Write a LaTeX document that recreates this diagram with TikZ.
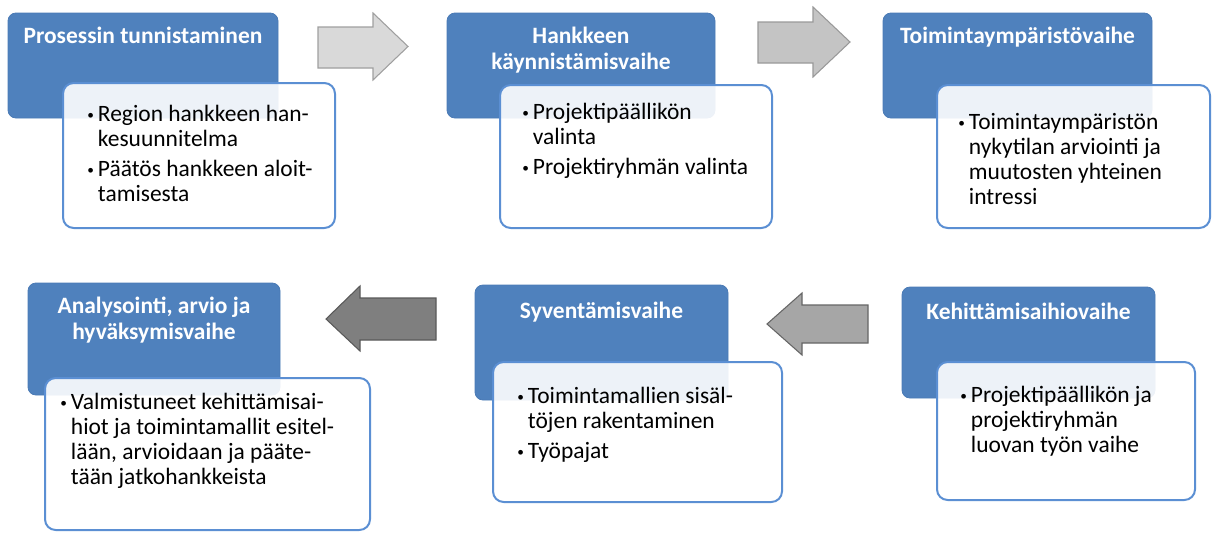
\documentclass[tikz,border=0pt]{standalone}
\usepackage{fontspec}
\setmainfont{Carlito}
\definecolor{hdrblue}{HTML}{4F81BD}
\definecolor{hdredge}{HTML}{4A7AB5}
\definecolor{boxedge}{HTML}{5B8FD3}
\definecolor{arrA}{HTML}{D9D9D9}
\definecolor{arrB}{HTML}{C4C4C4}
\definecolor{arrC}{HTML}{A6A6A6}
\definecolor{arrD}{HTML}{7F7F7F}
\newcommand{\bul}{\makebox[8pt][l]{\raisebox{1.5pt}{\fontsize{10}{10}\selectfont•}}}
\newcommand{\ind}{\hspace*{8pt}}
\tikzset{
  hdr/.style={draw=hdredge, line width=0.6pt, fill=hdrblue, rounded corners=6pt, inner sep=0pt},
  body/.style={draw=boxedge, line width=1.5pt, fill=white, fill opacity=0.9, rounded corners=8pt, inner sep=0pt},
  ttl/.style={anchor=base, text=white, font=\bfseries\fontsize{17.6}{19.5}\selectfont, inner sep=0pt},
  txt/.style={anchor=base west, font=\fontsize{17.6}{18.75}\selectfont, inner sep=0pt},
  blockarrow/.style={line width=0.8pt, line join=miter},
}
\begin{document}
\begin{tikzpicture}[x=0.75pt,y=-0.75pt]
\useasboundingbox (0,0) rectangle (1216,532);
% arrows
\draw[blockarrow, fill=arrA, draw=gray!75] (318,27) -- (373,27) -- (373,13) -- (408,46.5) -- (373,80) -- (373,68) -- (318,68) -- cycle;
\draw[blockarrow, fill=arrB, draw=gray!80] (758,22) -- (813,22) -- (813,7) -- (850,42) -- (813,77) -- (813,63) -- (758,63) -- cycle;
\draw[blockarrow, fill=arrC, draw=gray!120] (868,305) -- (802,305) -- (802,293) -- (767,324) -- (802,355) -- (802,343) -- (868,343) -- cycle;
\draw[blockarrow, fill=arrD, draw=black!65] (436,298) -- (360,298) -- (360,286) -- (326,319) -- (360,351) -- (360,340) -- (436,340) -- cycle;
% header boxes
\node[hdr, minimum width=202.5pt, minimum height=78.75pt] (h1) at (143,65.5) {};
\node[hdr, minimum width=201pt, minimum height=78.75pt] (h2) at (581,65.5) {};
\node[hdr, minimum width=201.75pt, minimum height=78.75pt] (h3) at (1017.5,65.5) {};
\node[hdr, minimum width=189pt, minimum height=84pt] (h4) at (154,339) {};
\node[hdr, minimum width=189.75pt, minimum height=86.25pt] (h5) at (601.5,342.5) {};
\node[hdr, minimum width=189.75pt, minimum height=83.25pt] (h6) at (1028.5,342.5) {};
% titles
\node[ttl] (t1) at (143,43) {Prosessin tunnistaminen};
\node[ttl] (t2) at (581,43) {\begin{tabular}[t]{@{}c@{}}Hankkeen\\ käynnistämisvaihe\end{tabular}};
\node[ttl] (t3) at (1017.5,43) {Toimintaympäristövaihe};
\node[ttl] (t4) at (154,313) {\begin{tabular}[t]{@{}c@{}}Analysointi, arvio ja\\ hyväksymisvaihe\end{tabular}};
\node[ttl] (t5) at (601.5,318) {Syventämisvaihe};
\node[ttl] (t6) at (1028.5,319) {Kehittämisaihiovaihe};
% body boxes
\node[body, minimum width=204pt, minimum height=108.75pt] (b1) at (199,155.5) {};
\node[body, minimum width=204pt, minimum height=107.25pt] (b2) at (636,156.5) {};
\node[body, minimum width=204.75pt, minimum height=107.25pt] (b3) at (1073.5,156.5) {};
\node[body, minimum width=243.75pt, minimum height=114pt] (b4) at (207.5,454) {};
\node[body, minimum width=216.75pt, minimum height=105pt] (b5) at (637.5,432) {};
\node[body, minimum width=193.5pt, minimum height=103.5pt] (b6) at (1066,431) {};
% body texts
\node[txt] (x1) at (87,121) {\begin{tabular}[t]{@{}l@{}}\bul Region hankkeen han-\\ \ind kesuunnitelma\\[3.75pt] \bul Päätös hankkeen aloit-\\ \ind tamisesta\end{tabular}};
\node[txt] (x2) at (522,119) {\begin{tabular}[t]{@{}l@{}}\bul Projektipäällikön\\ \ind valinta\\[3.75pt] \bul Projektiryhmän valinta\end{tabular}};
\node[txt] (x3) at (958,129) {\begin{tabular}[t]{@{}l@{}}\bul Toimintaympäristön\\ \ind nykytilan arviointi ja\\ \ind muutosten yhteinen\\ \ind intressi\end{tabular}};
\node[txt] (x4) at (60,409) {\begin{tabular}[t]{@{}l@{}}\bul Valmistuneet kehittämisai-\\ \ind hiot ja toimintamallit esitel-\\ \ind lään, arvioidaan ja pääte-\\ \ind tään jatkohankkeista\end{tabular}};
\node[txt] (x5) at (517,403) {\begin{tabular}[t]{@{}l@{}}\bul Toimintamallien sisäl-\\ \ind töjen rakentaminen\\[3.75pt] \bul Työpajat\end{tabular}};
\node[txt] (x6) at (960,402) {\begin{tabular}[t]{@{}l@{}}\bul Projektipäällikön ja\\ \ind projektiryhmän\\ \ind luovan työn vaihe\end{tabular}};
\end{tikzpicture}
\end{document}
